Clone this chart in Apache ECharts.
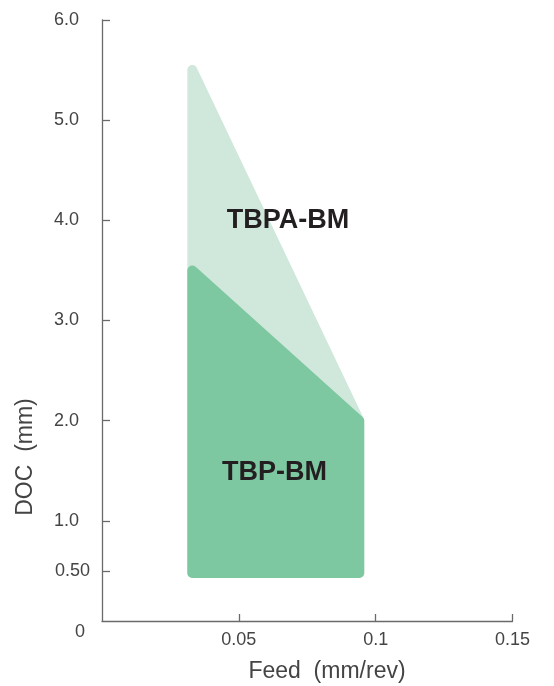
<!DOCTYPE html>
<html><head><meta charset="utf-8">
<script src="https://cdn.jsdelivr.net/npm/echarts@6/dist/echarts.min.js"></script>
<style>html,body{margin:0;padding:0;background:#fff}#c{width:554px;height:686px}</style>
</head><body><div id="c"></div>
<script>
// Data (Feed in mm/rev, DOC in mm)
const tbpaFeed = [0.033, 0.094, 0.094, 0.033];
const tbpaDoc  = [5.5, 2.0, 0.48, 0.48];
const tbpFeed  = [0.033, 0.094, 0.094, 0.033];
const tbpDoc   = [3.5, 2.0, 0.48, 0.48];
const regionNames = ['TBPA-BM', 'TBP-BM'];
const labelFeed = [0.068, 0.063];
const labelDoc  = [4.0, 1.48];
const yTickValues  = [0.5, 1, 2, 3, 4, 5, 6];
const yLabelValues = [0, 0.5, 1, 2, 3, 4, 5, 6];
const xTickValues  = [0.05, 0.1, 0.15];
const xTitle = 'Feed  (mm/rev)';
const yTitle = 'DOC  (mm)';

const lightColor = '#d0e8db';
const darkColor  = '#7ec8a1';

function poly(feed, doc) { return feed.map((f, i) => [f, doc[i]]); }

const chart = echarts.init(document.getElementById('c'));
const axisColor = '#6a6a6a';
const labelColor = '#444444';
const font = 'Liberation Sans, Arial, Helvetica, sans-serif';

function polySeries(pts, color, z) {
  return {
    type: 'custom', z: z, silent: true,
    data: [0],
    renderItem: function (params, api) {
      const points = pts.map(p => api.coord(p));
      return {
        type: 'polygon',
        shape: { points: points },
        style: { fill: color, stroke: color, lineWidth: 10, lineJoin: 'round' }
      };
    }
  };
}

chart.setOption({
  animation: false,
  grid: { left: 102, right: 41.5, top: 20, bottom: 65 },
  xAxis: {
    type: 'value', min: 0, max: 0.15, interval: 0.05,
    splitLine: { show: false },
    axisLine: { lineStyle: { color: axisColor, width: 1.3 } },
    axisTick: { inside: true, length: 7, customValues: xTickValues, lineStyle: { color: axisColor, width: 1.3 } },
    axisLabel: { customValues: xTickValues, margin: 10, color: labelColor, fontSize: 18, fontFamily: font,
      formatter: v => String(v) }
  },
  yAxis: {
    type: 'value', min: 0, max: 6, interval: 0.5,
    splitLine: { show: false },
    axisLine: { show: true, lineStyle: { color: axisColor, width: 1.3 } },
    axisTick: { show: true, inside: true, length: 8, customValues: yTickValues, lineStyle: { color: axisColor, width: 1.3 } },
    axisLabel: {
      customValues: yLabelValues, margin: 12, color: labelColor, fontSize: 18, fontFamily: font,
      formatter: function (v) {
        if (v === 0) return '{z|0}';
        if (v === 0.5) return '{h|0.50}';
        return '{n|' + v.toFixed(1) + '}';
      },
      rich: {
        z: { padding: [22, 5, 0, 0], fontSize: 18, color: labelColor, fontFamily: font },
        h: { fontSize: 18, color: labelColor, fontFamily: font },
        n: { padding: [0, 11, 0, 0], fontSize: 18, color: labelColor, fontFamily: font }
      }
    }
  },
  graphic: [
    { type: 'text', x: 327, y: 672,
      style: { text: xTitle, fill: labelColor, font: '23px ' + font, textAlign: 'center', textVerticalAlign: 'middle' } },
    { type: 'text', x: 26, y: 457, rotation: Math.PI / 2,
      style: { text: yTitle, fill: labelColor, font: '23px ' + font, textAlign: 'center', textVerticalAlign: 'middle' } }
  ],
  series: [
    polySeries(poly(tbpaFeed, tbpaDoc), lightColor, 1),
    polySeries(poly(tbpFeed, tbpDoc), darkColor, 2),
    {
      type: 'custom', z: 3, silent: true,
      data: regionNames.map((n, i) => [labelFeed[i], labelDoc[i], n]),
      renderItem: function (params, api) {
        const p = api.coord([api.value(0), api.value(1)]);
        return {
          type: 'text', x: p[0], y: p[1],
          style: { text: regionNames[params.dataIndex], fill: '#231f20',
            font: 'bold 27px ' + font, textAlign: 'center', textVerticalAlign: 'middle' }
        };
      }
    }
  ]
});
</script></body></html>
